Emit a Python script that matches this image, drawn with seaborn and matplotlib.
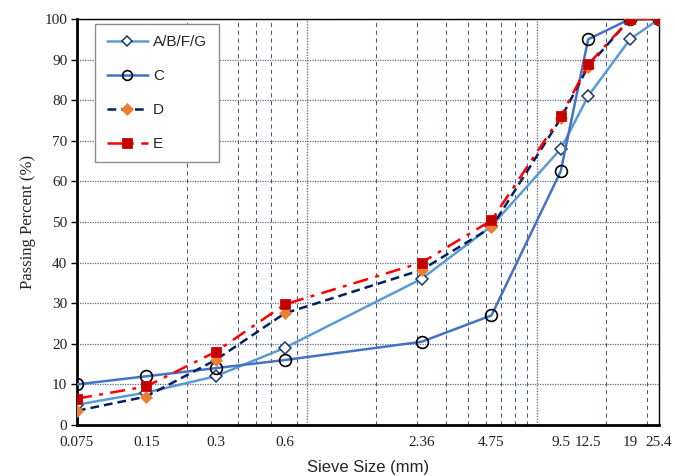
import numpy as np
import pandas as pd
import matplotlib
matplotlib.use("Agg")
import matplotlib.pyplot as plt
from matplotlib.lines import Line2D
from matplotlib.ticker import FixedLocator, NullFormatter
import seaborn as sns

# ---- data ----
sieve_sizes = [0.075, 0.15, 0.3, 0.6, 2.36, 4.75, 9.5, 12.5, 19, 25.4]
sieve_labels = ["0.075", "0.15", "0.3", "0.6", "2.36", "4.75", "9.5", "12.5", "19", "25.4"]
pass_abfg = [5, 8, 12, 19, 36, 49, 68, 81, 95, 100]
pass_c = [10, 12, 14, 16, 20.5, 27, 62.5, 95, 100, 100]
pass_d = [3.5, 7, 16, 27.5, 38.2, 48.7, 75.5, 88.3, 100, 100]
pass_e = [6.5, 9.5, 18, 29.7, 40, 50.4, 76, 88.8, 100, 100]
series_names = ["A/B/F/G", "C", "D", "E"]
y_ticks = [0, 10, 20, 30, 40, 50, 60, 70, 80, 90, 100]

sns.set_theme(style="white")
plt.rcParams["font.family"] = ["Liberation Serif", "DejaVu Serif"]

fig = plt.figure(figsize=(6.75, 4.76), dpi=100)
ax = fig.add_axes([77 / 675, 51 / 476, 582 / 675, 406 / 476])

styles = {
    "A/B/F/G": dict(color="#5b9bd5", linestyle="-", linewidth=1.8, marker="D", markersize=6,
                    markerfacecolor="white", mec="#1f3864", markeredgewidth=1.1),
    "C": dict(color="#4472c4", linestyle="-", linewidth=1.8, marker="o", markersize=8.5,
              markerfacecolor="none", mec="black", markeredgewidth=1.2),
    "D": dict(color="#002060", linestyle=(0, (3.5, 2)), linewidth=1.8, marker="D", markersize=6.5,
              markerfacecolor="#ed7d31", mec="#ed7d31", markeredgewidth=0.5),
    "E": dict(color="#ff0000", linestyle=(0, (6, 3, 1.5, 3)), linewidth=1.8, marker="s", markersize=7.5,
              markerfacecolor="#c00000", mec="#e00000", markeredgewidth=0.6),
}
legend_marker_sizes = {"A/B/F/G": 5, "C": 7, "D": 6, "E": 6.5}
values = {"A/B/F/G": pass_abfg, "C": pass_c, "D": pass_d, "E": pass_e}

for name in series_names:
    df = pd.DataFrame({"size": sieve_sizes, "pass": values[name]})
    sns.lineplot(data=df, x="size", y="pass", ax=ax, errorbar=None, sort=False,
                 zorder=3, **styles[name])

ax.set_xscale("log")
ax.set_xlim(0.075, 25.4)
ax.set_ylim(0, 100)

# gridlines: minor dashed at multiples of decade start, major dotted
minor_grid = [k * 0.075 * 10 ** d for d in range(3) for k in range(2, 10)]
minor_grid = [v for v in minor_grid if v < 25.4]
ax.xaxis.set_major_locator(FixedLocator(sieve_sizes))
ax.set_xticklabels(sieve_labels)
ax.xaxis.set_minor_locator(FixedLocator(minor_grid))
ax.xaxis.set_minor_formatter(NullFormatter())
ax.grid(False)
ax.grid(True, axis="x", which="minor", color="#4a5a78", linestyle=(0, (4, 3.5)), linewidth=0.75)
for v in [0.75, 7.5]:
    ax.axvline(v, color="#6b7280", linestyle=(0, (1, 1)), linewidth=1.0, zorder=0.5)
ax.set_yticks(y_ticks)
ax.grid(True, axis="y", which="major", color="#5d6b85", linestyle=(0, (1, 1)), linewidth=0.9)
ax.set_axisbelow(True)

ax.tick_params(axis="x", which="both", length=0, labelsize=11, pad=8, colors="black")
ax.tick_params(axis="y", which="major", length=4, width=1, direction="out", labelsize=11,
               pad=3, colors="black", left=True)
for t in ax.get_xticklabels() + ax.get_yticklabels():
    t.set_color("#222222")

for s in ["left", "bottom"]:
    ax.spines[s].set_linewidth(2)
    ax.spines[s].set_color("black")
for s in ["top", "right"]:
    ax.spines[s].set_linewidth(1)
    ax.spines[s].set_color("black")

ax.set_ylabel("Passing Percent (%)", fontsize=12, family=["Liberation Serif"], labelpad=6)
ax.set_xlabel("Sieve Size (mm)", fontsize=12, family=["Liberation Sans"], labelpad=8)

handles = []
for name in series_names:
    st = dict(styles[name])
    mec = st.pop("mec")
    st["markersize"] = legend_marker_sizes[name]
    handles.append(Line2D([], [], markeredgecolor=mec, **st))
leg = ax.legend(handles, series_names, loc="upper left", bbox_to_anchor=(0.031, 0.988),
                borderaxespad=0, frameon=True, fancybox=False, framealpha=1,
                edgecolor="#8c8c8c", prop={"family": "Liberation Sans", "size": 11},
                handlelength=2.7, labelspacing=1.3, borderpad=0.75, handletextpad=0.35)
leg.get_frame().set_linewidth(1.0)

fig.savefig("out.png", dpi=100)
